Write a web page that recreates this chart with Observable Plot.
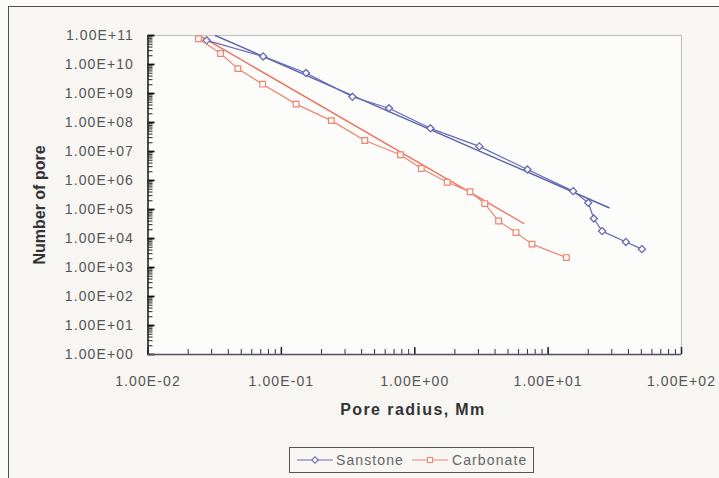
<!DOCTYPE html>
<html>
<head>
<meta charset="utf-8">
<script src="https://cdn.jsdelivr.net/npm/d3@7"></script>
<script src="https://cdn.jsdelivr.net/npm/@observablehq/plot@0.6"></script>
<style>
  html, body { margin: 0; padding: 0; background: #fbfbfa; }
  #wrap { position: relative; width: 719px; height: 478px; overflow: hidden; background: #fbfbfa;
          font-family: "Liberation Sans", Arial, sans-serif; }
  #outer { position: absolute; left: 8px; top: 6px; width: 712px; height: 474px;
           border: 1.5px solid #4d4d4d; background: #f7f6f3; box-sizing: border-box; }
  #plot { position: absolute; left: 0; top: 0; }
  .xtitle { position: absolute; left: 313px; width: 200px; top: 400px; height: 20px; line-height: 20px;
            text-align: center; font-weight: bold; font-size: 16px; color: #333; letter-spacing: 1.4px; }
  .ytitle { position: absolute; left: -60px; top: 195px; width: 200px; height: 20px; line-height: 20px;
            text-align: center; font-weight: bold; font-size: 16px; color: #333; transform: rotate(-90deg); }
  #legend { position: absolute; left: 289px; top: 447px; width: 245px; height: 26px; box-sizing: border-box;
            border: 1.2px solid #555; background: #f7f6f3; }
  #legend span { position: absolute; top: 4px; font-size: 14px; line-height: 16px; color: #666; letter-spacing: 1.1px; }
  #legend svg { position: absolute; top: 7px; }
</style>
</head>
<body>
<div id="wrap">
  <div id="outer"></div>
  <div id="plot"></div>
  <div class="ytitle">Number of pore</div>
  <div class="xtitle">Pore radius, Mm</div>
  <div id="legend"></div>
</div>
<script>
// ---- data ----
const seriesNames = ["Sanstone", "Carbonate"];
const seriesColors = ["#6669b4", "#f08470"];
const trendColors = ["#5d60aa", "#ef6c5c"];

const sandRadius = [0.0275, 0.073, 0.153, 0.341, 0.641, 1.31, 3.05, 7.0, 15.4, 20.0, 22.0, 25.4, 38.3, 50.5];
const sandCount  = [6.8e10, 1.9e10, 5.1e9, 7.7e8, 3.1e8, 6.3e7, 1.5e7, 2.4e6, 4.3e5, 1.7e5, 4.9e4, 1.8e4, 7.6e3, 4.3e3];

const carbRadius = [0.0239, 0.035, 0.0472, 0.0724, 0.129, 0.237, 0.422, 0.781, 1.12, 1.75, 2.60, 3.35, 4.25, 5.74, 7.57, 13.7];
const carbCount  = [7.7e10, 2.4e10, 7.2e9, 2.1e9, 4.3e8, 1.16e8, 2.4e7, 7.7e6, 2.6e6, 8.7e5, 4.1e5, 1.6e5, 4.0e4, 1.6e4, 6.4e3, 2.2e3];

// power-law trend lines (end points)
const sandTrendRadius = [0.032, 28.6];
const sandTrendCount  = [1.0e11, 1.15e5];
const carbTrendRadius = [0.0255, 6.56];
const carbTrendCount  = [8.8e10, 3.3e4];

const xTicks = [0.01, 0.1, 1, 10, 100];
const xTickLabels = ["1.00E-02", "1.00E-01", "1.00E+00", "1.00E+01", "1.00E+02"];
const yTicks = [1, 10, 1e2, 1e3, 1e4, 1e5, 1e6, 1e7, 1e8, 1e9, 1e10, 1e11];
const yTickLabels = ["1.00E+00", "1.00E+01", "1.00E+02", "1.00E+03", "1.00E+04", "1.00E+05",
                     "1.00E+06", "1.00E+07", "1.00E+08", "1.00E+09", "1.00E+10", "1.00E+11"];

// ---- tables ----
const toRows = (xs, ys) => xs.map((x, i) => ({x, y: ys[i]}));
const sand = toRows(sandRadius, sandCount);
const carb = toRows(carbRadius, carbCount);
const sandTrend = toRows(sandTrendRadius, sandTrendCount);
const carbTrend = toRows(carbTrendRadius, carbTrendCount);

// minor log tick positions (1..9 x 10^k) from the log scale
const xDomain = [xTicks[0], xTicks[xTicks.length - 1]];
const yDomain = [yTicks[0], yTicks[yTicks.length - 1]];
const xMinor = d3.scaleLog().domain(xDomain).ticks(60);
const yMinor = d3.scaleLog().domain(yDomain).ticks(60);

const W = 719, H = 440, ML = 147.5, MR = 38, MT = 35, MB = 86;
const FW = W - ML - MR, FH = H - MT - MB;
const chart = Plot.plot({
  width: W, height: H,
  marginLeft: ML, marginRight: MR, marginTop: MT, marginBottom: MB,
  style: {fontFamily: "'Liberation Sans', Arial, sans-serif", background: "transparent", overflow: "visible"},
  x: {type: "log", domain: xDomain},
  y: {type: "log", domain: yDomain},
  marks: [
    Plot.frame({fill: "#fcfcfb", stroke: "#c4c4c4", strokeWidth: 1.2}),
    // tick labels
    Plot.axisY({ticks: yTicks, tickSize: 0, tickPadding: 14, fontSize: 14, fill: "#555", label: null,
                tickFormat: d => yTickLabels[yTicks.indexOf(d)]}),
    Plot.axisX({ticks: xTicks, tickSize: 0, tickPadding: 22, fontSize: 14, fill: "#555", label: null,
                tickFormat: d => xTickLabels[xTicks.indexOf(d)]}),
    // inside tick marks (minor and major)
    Plot.tickY(yMinor, {y: d => d, insetRight: FW - 5, stroke: "#222", strokeWidth: 1}),
    Plot.tickY(yTicks, {y: d => d, insetRight: FW - 7, stroke: "#111", strokeWidth: 1.8}),
    Plot.tickX(xMinor, {x: d => d, insetTop: FH - 5, stroke: "#334", strokeWidth: 1}),
    Plot.tickX(xTicks, {x: d => d, insetTop: FH - 7, stroke: "#223", strokeWidth: 1.5}),
    // axis lines
    Plot.ruleX([xDomain[0]], {stroke: "#2a2a2a", strokeWidth: 1.6}),
    Plot.ruleY([yDomain[0]], {stroke: "#556", strokeWidth: 1.4}),
    // trend lines
    Plot.line(sandTrend, {x: "x", y: "y", stroke: trendColors[0], strokeWidth: 1.4, clip: true}),
    Plot.line(carbTrend, {x: "x", y: "y", stroke: trendColors[1], strokeWidth: 1.3, clip: true}),
    // data series
    Plot.line(sand, {x: "x", y: "y", stroke: seriesColors[0], strokeWidth: 1.2}),
    Plot.dot(sand, {x: "x", y: "y", symbol: "diamond2", r: 3.2, fill: "#fcfcfb", stroke: seriesColors[0], strokeWidth: 1.3}),
    Plot.line(carb, {x: "x", y: "y", stroke: seriesColors[1], strokeWidth: 1.2}),
    Plot.dot(carb, {x: "x", y: "y", symbol: "square", r: 3.2, fill: "#fcfcfb", stroke: seriesColors[1], strokeWidth: 1.2})
  ]
});
chart.querySelectorAll('g[aria-label="y-axis tick label"] text, g[aria-label="x-axis tick label"] text')
  .forEach(t => t.style.letterSpacing = "1.1px");
document.getElementById("plot").appendChild(chart);

// legend
const legend = document.getElementById("legend");
const sw = (color, symbol, left) => {
  const s = d3.create("svg").attr("width", 36).attr("height", 10).style("left", left + "px");
  s.append("line").attr("x1", 0).attr("x2", 36).attr("y1", 5).attr("y2", 5).attr("stroke", color).attr("stroke-width", 1.2);
  const path = d3.symbol(symbol === "diamond" ? d3.symbolSquare2 : d3.symbolSquare, 26)();
  s.append("path").attr("d", path).attr("transform", "translate(18,5)" + (symbol === "diamond" ? " rotate(45)" : ""))
    .attr("fill", "#f7f6f3").attr("stroke", color).attr("stroke-width", 1.1);
  return s.node();
};
legend.appendChild(sw(seriesColors[0], "diamond", 7));
const t1 = document.createElement("span"); t1.textContent = seriesNames[0]; t1.style.left = "46px"; legend.appendChild(t1);
legend.appendChild(sw(seriesColors[1], "square", 122));
const t2 = document.createElement("span"); t2.textContent = seriesNames[1]; t2.style.left = "162px"; legend.appendChild(t2);
</script>
</body>
</html>
